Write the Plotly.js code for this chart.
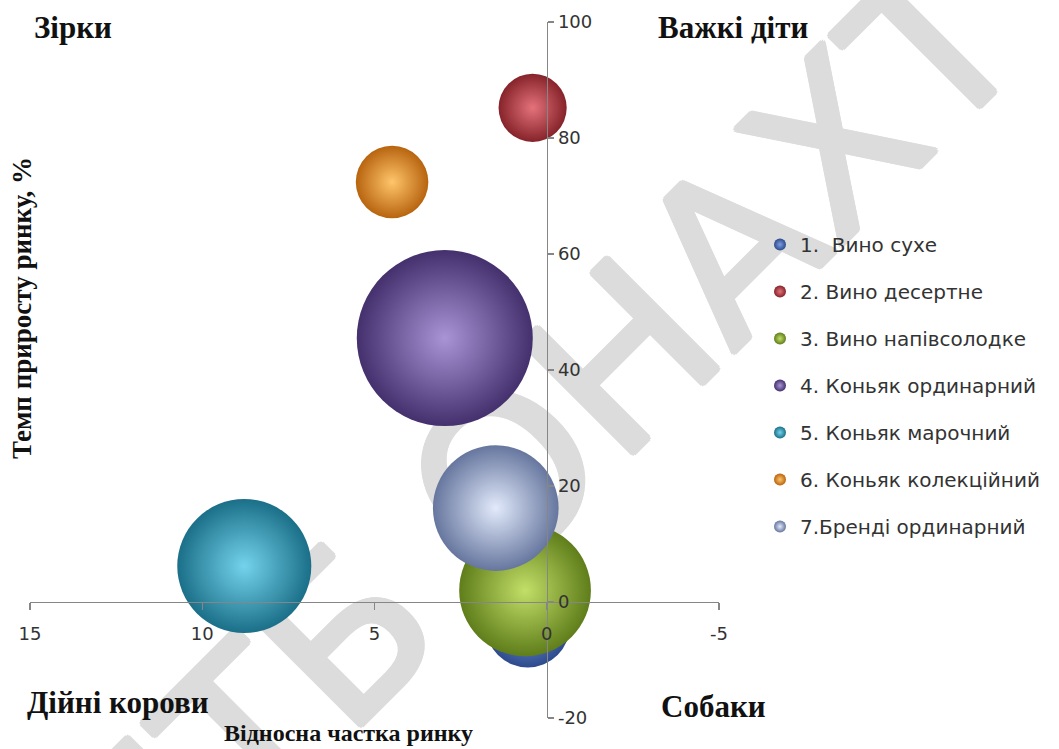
<!DOCTYPE html>
<html>
<head>
<meta charset="utf-8">
<script src="https://cdn.plot.ly/plotly-3.0.1.min.js"></script>
<style>html,body{margin:0;padding:0;background:#fff;}#chart{width:1059px;height:749px;}</style>
</head>
<body>
<div id="chart"></div>
<script>
// ---- data ----
const categories = ['1.\u00a0 Вино сухе', '2. Вино десертне', '3. Вино напівсолодке', '4. Коньяк ординарний', '5. Коньяк марочний', '6. Коньяк колекційний', '7.Бренді ординарний'];
const relShare   = [0.55, 0.41, 0.63, 2.96, 8.78, 4.49, 1.48];   // Відносна частка ринку
const growthRate = [-4.0, 85.2, 2.0, 45.5, 6.2, 72.4, 16.2];     // Темп приросту ринку, %
const volume     = [23, 15, 56, 100, 58, 17, 51];                 // bubble size (relative)
const xTickVals  = [15, 10, 5, 0, -5];
const yTickVals  = [-20, 0, 20, 40, 60, 80, 100];
const quadrantLabels = ['Зірки', 'Важкі діти', 'Дійні корови', 'Собаки'];
const xTitle = 'Відносна частка ринку';
const yTitle = 'Темп приросту ринку, %';
const watermark = 'НТБ ОНАХТ';

// ---- styles ----
const edgeColors = ['#2c4a8c', '#86232a', '#5f7d1a', '#45306e', '#1b6f88', '#b8640f', '#66769e'];
const lightColors = ['#7d9de0', '#e4727b', '#c2df68', '#a994d6', '#74d3ec', '#ffc56a', '#e2eafb'];
const maxDiameter = 176;
const W = 1059, H = 749;
const M = {l: 30, r: 340, t: 22, b: 31};
const PW = W - M.l - M.r, PH = H - M.t - M.b;
const px = x => (x - M.l) / PW;
const py = y => (H - M.b - y) / PH;

const sizeref = 2 * Math.max(...volume) / (maxDiameter * maxDiameter);

const traces = categories.map((name, i) => ({
  type: 'scatter', mode: 'markers', name: name,
  x: [relShare[i]], y: [growthRate[i]],
  legendgroup: 'g' + i,
  cliponaxis: false,
  hoverinfo: 'name+x+y',
  marker: {
    size: [volume[i]], sizemode: 'area', sizeref: sizeref,
    color: edgeColors[i], line: {width: 0},
    gradient: {type: 'radial', color: lightColors[i]},
    opacity: 1
  }
}));

const serif = 'Liberation Serif, Times New Roman, serif';
const sans = 'DejaVu Sans, Verdana, sans-serif';
const wmColor = '#dcdcdc';
const wmShadow = [[3,0],[-3,0],[0,3],[0,-3],[2,2],[-2,-2],[2,-2],[-2,2]]
  .map(d => d[0] + 'px ' + d[1] + 'px 0 ' + wmColor).join(', ');

const layout = {
  width: W, height: H,
  margin: M,
  paper_bgcolor: '#ffffff', plot_bgcolor: 'rgba(0,0,0,0)',
  showlegend: true,
  legend: {
    x: px(760), y: py(225), xanchor: 'left', yanchor: 'top',
    font: {family: sans, size: 20, color: '#333333'},
    itemsizing: 'constant', tracegroupgap: 18,
    bgcolor: 'rgba(0,0,0,0)'
  },
  xaxis: {
    range: [15, -5], tickvals: xTickVals, ticktext: xTickVals.map(String),
    anchor: 'free', position: py(602),
    showgrid: false, zeroline: false,
    showline: true, linecolor: '#868686', linewidth: 1.3,
    ticks: 'outside', ticklen: 7, tickcolor: '#868686', tickwidth: 1.3,
    ticklabelstandoff: 8,
    tickfont: {family: sans, size: 18, color: '#333333'}
  },
  yaxis: {
    range: [-20, 100], tickvals: yTickVals, ticktext: yTickVals.map(String),
    side: 'right', anchor: 'free', position: px(547),
    showgrid: false, zeroline: false,
    showline: true, linecolor: '#868686', linewidth: 1.3,
    ticks: 'outside', ticklen: 6, tickcolor: '#868686', tickwidth: 1.3,
    tickfont: {family: sans, size: 18, color: '#333333'}
  },
  shapes: [{
    type: 'rect', xref: 'paper', yref: 'paper', layer: 'below',
    x0: px(513), x1: px(533), y0: py(447), y1: py(427),
    line: {width: 0}, fillcolor: 'rgba(0,0,0,0)',
    label: {text: watermark, textangle: -45, textposition: 'middle center',
            font: {family: 'DejaVu Sans', size: 215, color: wmColor, shadow: wmShadow}}
  }],
  annotations: [
    {text: quadrantLabels[0], x: px(73), y: py(28)},
    {text: quadrantLabels[1], x: px(733), y: py(28)},
    {text: quadrantLabels[2], x: px(118), y: py(702)},
    {text: quadrantLabels[3], x: px(713), y: py(706)},
  ].map(a => Object.assign(a, {xref: 'paper', yref: 'paper', showarrow: false,
      xanchor: 'center', yanchor: 'middle',
      font: {family: serif, size: 31, color: '#111111', weight: 'bold'}})).concat([
    {text: xTitle, x: px(348), y: py(748), xref: 'paper', yref: 'paper', showarrow: false,
     xanchor: 'center', yanchor: 'bottom',
     font: {family: serif, size: 24, color: '#111111', weight: 'bold'}},
    {text: yTitle, x: px(22), y: py(308), xref: 'paper', yref: 'paper', showarrow: false,
     xanchor: 'center', yanchor: 'middle', textangle: -90,
     font: {family: serif, size: 27, color: '#111111', weight: 'bold'}}
  ])
};

Plotly.newPlot('chart', traces, layout, {displayModeBar: false, staticPlot: true});
</script>
</body>
</html>
